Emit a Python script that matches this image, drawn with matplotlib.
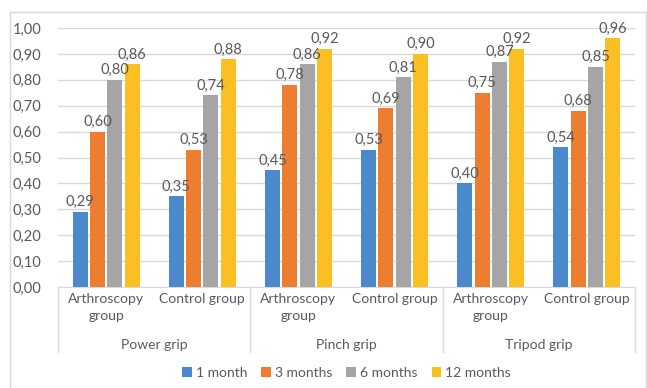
import numpy as np
import matplotlib.pyplot as plt
from matplotlib.patches import Rectangle

# grip strength data, four follow-up times for each group
grips = ['Power grip', 'Pinch grip', 'Tripod grip']
groups = ['Arthroscopy\ngroup', 'Control group']
series = ['1 month', '3 months', '6 months', '12 months']
month1 = [0.29, 0.35, 0.45, 0.53, 0.40, 0.54]
month3 = [0.60, 0.53, 0.78, 0.69, 0.75, 0.68]
month6 = [0.80, 0.74, 0.86, 0.81, 0.87, 0.85]
month12 = [0.86, 0.88, 0.92, 0.90, 0.92, 0.96]
colors = ['#4A89CC', '#ED7D31', '#A5A5A5', '#FBBF24']

plt.rcParams['font.family'] = ['Lato', 'DejaVu Sans']
txt = '#595959'

fig = plt.figure(figsize=(6.47, 3.88), dpi=100)
W, H = 647, 388
ax = fig.add_axes([58 / W, 1 - 287 / H, (635 - 58) / W, (287 - 28) / H])

# outer chart border
fig.patches.append(Rectangle((10 / W, 0), (646 - 10) / W, 1 - 12 / H,
                             transform=fig.transFigure, fill=False,
                             edgecolor='#D9D9D9', linewidth=1))

x = np.arange(len(month1))
width = 0.155
step = 0.18
for i, (vals, c, name) in enumerate(zip([month1, month3, month6, month12], colors, series)):
    pos = x + (i - 1.5) * step
    ax.bar(pos, vals, width, color=c, label=name, zorder=3)
    for p, v in zip(pos, vals):
        ax.text(p, v + 0.01, f'{v:.2f}'.replace('.', ','), ha='center', va='bottom',
                fontsize=10.5, color=txt, zorder=4)

ax.set_xlim(-0.5, len(month1) - 0.5)
ax.set_ylim(0, 1.0)
ax.set_yticks(np.arange(0, 1.01, 0.1))
ax.set_yticklabels([f'{t:.2f}'.replace('.', ',') for t in np.arange(0, 1.01, 0.1)])
ax.tick_params(axis='y', length=0, colors=txt, labelsize=10.5, pad=12)
ax.tick_params(axis='x', length=0, labelbottom=False)
ax.grid(axis='y', color='#D9D9D9', linewidth=1, zorder=0)
for s in ['top', 'right', 'left']:
    ax.spines[s].set_visible(False)
ax.spines['bottom'].set_color('#D9D9D9')

# two-level category axis
trans = ax.get_xaxis_transform()
for k, lab in enumerate(groups * len(grips)):
    ax.text(k, -0.025, lab, transform=trans, ha='center', va='top',
            fontsize=10, color=txt, linespacing=1.45)
for g, lab in enumerate(grips):
    ax.text(2 * g + 0.5, -0.2, lab, transform=trans, ha='center', va='top',
            fontsize=10, color=txt)
for b in [-0.5, 1.5, 3.5, 5.5]:
    ax.plot([b, b], [0, -(352 - 287) / (287 - 28)], transform=trans,
            color='#D9D9D9', linewidth=1, clip_on=False)

ax.legend(loc='center', bbox_to_anchor=(0.5, -(373 - 287) / (287 - 28)),
          ncol=4, frameon=False, fontsize=10, labelcolor=txt,
          handlelength=0.7, handleheight=0.7, handletextpad=0.3, columnspacing=1.0)

fig.savefig('out.png', dpi=100)
